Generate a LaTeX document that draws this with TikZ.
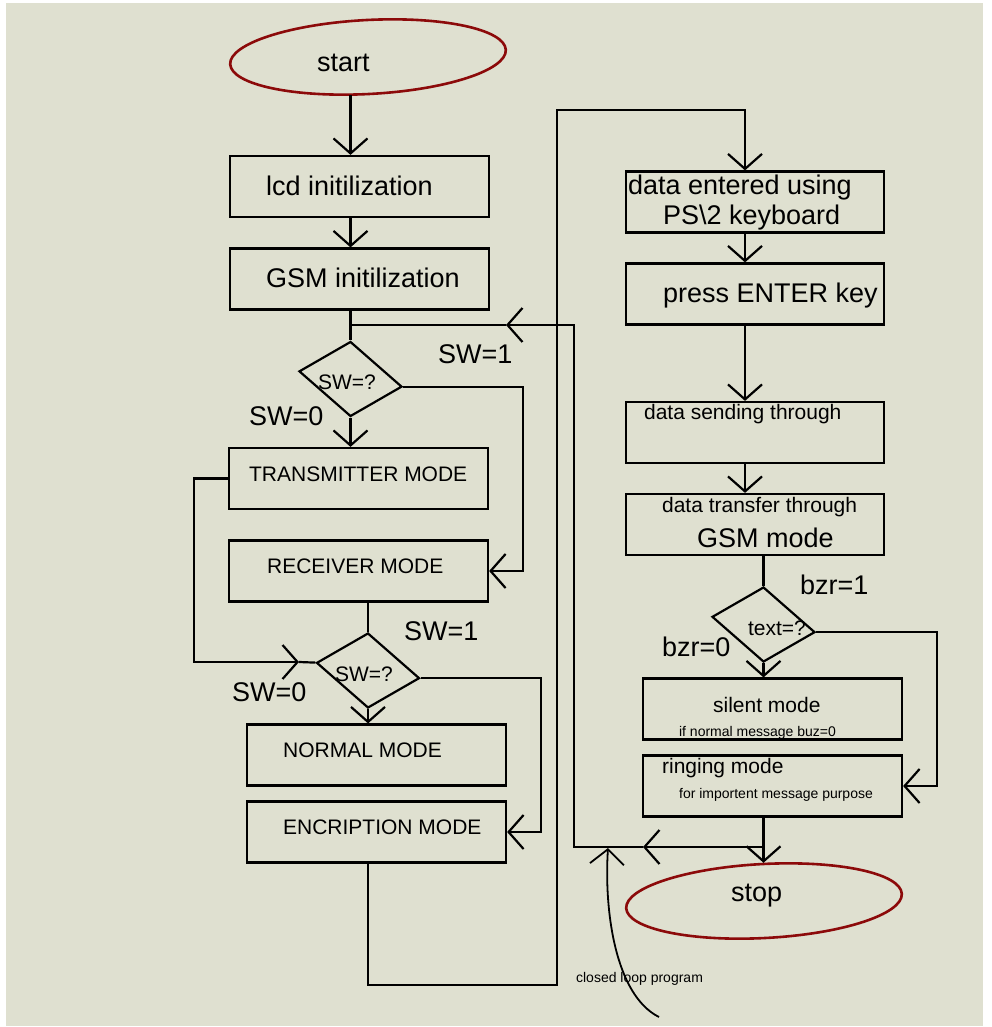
\documentclass[tikz,border=0pt]{standalone}
\usepackage{fontspec}
\setmainfont{Liberation Sans}
\usetikzlibrary{arrows.meta,shapes.geometric}
\definecolor{Fond}{RGB}{223,224,208}
\definecolor{BordRouge}{RGB}{140,10,10}

\begin{document}
\begin{tikzpicture}[x=1pt, y=-1pt, line width=2.2pt, every node/.style={inner sep=0pt}]

      \tikzset{
        Boite/.style={rectangle, draw=black, minimum width=259pt, minimum height=61pt},
        Test/.style={diamond, draw=black, minimum width=103pt, minimum height=75pt, yslant=-0.15},
        Bout/.style={ellipse, draw=BordRouge, line width=2.6pt, minimum width=276pt, minimum height=74pt, rotate=3},
        TxtL/.style={anchor=base west, font=\fontsize{27}{32}\selectfont},
        TxtM/.style={anchor=base west, font=\fontsize{21}{25}\selectfont},
        TxtS/.style={anchor=base west, font=\fontsize{14}{17}\selectfont},
        Fleche/.style={-{Straight Barb[length=15pt, width=34pt]}}
      }

      \useasboundingbox (0,0) rectangle (991,1027);
      \fill[white] (0,0) rectangle (991,1027);
      \fill[Fond] (6,3) rectangle (983,1026);

        % colonne gauche
        \node[Bout] (start) at (368,57) {};
        \node[TxtL] (startT) at (316,72) {start};
        \node[Boite] (lcd) at (359.5,186.5) {};
        \node[TxtL] (lcdT) at (265,195) {lcd initilization};
        \node[Boite] (gsm) at (359.5,279) {};
        \node[TxtL] (gsmT) at (265,287) {GSM initilization};

        \node[Test] (d1) at (350.5,379) {};
        \node[TxtM] (d1T) at (317,389) {SW=?};
        \node[TxtL] (d1Un) at (437,363) {SW=1};
        \node[TxtL] (d1Zero) at (248,425) {SW=0};

        \node[Boite] (tx) at (358.5,478.5) {};
        \node[TxtM] (txT) at (248,481) {TRANSMITTER MODE};
        \node[Boite] (rx) at (358.5,571) {};
        \node[TxtM] (rxT) at (266,573) {RECEIVER MODE};

        \node[Test] (d2) at (368,670.5) {};
        \node[TxtM] (d2T) at (334,681) {SW=?};
        \node[TxtL] (d2Un) at (403,640) {SW=1};
        \node[TxtL] (d2Zero) at (231,701) {SW=0};

        \node[Boite] (norm) at (376.5,755) {};
        \node[TxtM] (normT) at (282,757) {NORMAL MODE};
        \node[Boite] (encr) at (376.5,832) {};
        \node[TxtM] (encrT) at (282,834) {ENCRIPTION MODE};

        % colonne droite
        \node[Boite, minimum width=258pt] (entered) at (755,202) {};
        \node[TxtL] (enteredT) at (627,194) {data entered using};
        \node[TxtL] (enteredU) at (662,224) {PS\textbackslash 2 keyboard};
        \node[Boite, minimum width=258pt] (enter) at (755,294) {};
        \node[TxtL] (enterT) at (662,302) {press ENTER key};
        \node[Boite, minimum width=258pt] (sending) at (755,432.5) {};
        \node[TxtM] (sendingT) at (643,419) {data sending through};
        \node[Boite, minimum width=258pt] (transfer) at (755,524.5) {};
        \node[TxtM] (transferT) at (661,512) {data transfer through};
        \node[TxtL] (transferU) at (696,547) {GSM mode};

        \node[Test] (d3) at (763.5,624.5) {};
        \node[TxtM] (d3T) at (747,635) {text=?};
        \node[TxtL] (d3Un) at (799,594) {bzr=1};
        \node[TxtL] (d3Zero) at (661,656) {bzr=0};

        \node[Boite] (silent) at (772.5,709) {};
        \node[TxtM] (silentT) at (712,712) {silent mode};
        \node[TxtS] (silentU) at (678,736) {if normal message buz=0};
        \node[Boite] (ring) at (772.5,786) {};
        \node[TxtM] (ringT) at (661,773) {ringing mode};
        \node[TxtS] (ringU) at (678,798) {for importent message purpose};

        \node[Bout] (stop) at (764,901) {};
        \node[TxtL] (stopT) at (730,901) {stop};
        \node[TxtS] (note) at (575,982) {closed loop program};

        % points de passage
        \coordinate (colR) at (745,0);
        \coordinate (d2in) at (299,662);
        \coordinate (loopBas) at (557,985);
        \coordinate (loopHaut) at (557,110);
        \coordinate (retJ) at (763.5,847);
        \coordinate (retA) at (643,847);
        \coordinate (retB) at (574,847);
        \coordinate (retD) at (506,325);
        \coordinate (noteBas) at (659,1017);
        \coordinate (noteHaut) at (608,848);

        % liaisons
        \draw[Fleche] (start.south -| d1.north) -- (lcd.north -| d1.north);
        \draw[Fleche] (lcd.south -| d1.north) -- (gsm.north -| d1.north);
        \draw (gsm.south -| d1.north) -- (d1.north);
        \draw[Fleche] (d1.south) -- (tx.north -| d1.south);
        \draw[Fleche] (d1.east) -| ([xshift=34pt]rx.east) -- (rx.east);
        \draw[Fleche] (tx.west) -- ++(-34,0) |- (d2in);
        \draw (d2in) -- (d2.west);
        \draw (rx.south -| d2.north) -- (d2.north);
        \draw[Fleche] (d2.south) -- (norm.north -| d2.south);
        \draw[Fleche] (d2.east) -| ([xshift=34pt]encr.east) -- (encr.east);
        \draw[Fleche] (encr.south -| d2.south) |- (loopBas) -- (loopHaut) -| (entered.north -| colR);

        \draw[Fleche] (entered.south -| colR) -- (enter.north -| colR);
        \draw[Fleche] (enter.south -| colR) -- (sending.north -| colR);
        \draw[Fleche] (sending.south -| colR) -- (transfer.north -| colR);
        \draw (transfer.south -| d3.north) -- (d3.north);
        \draw[Fleche] (d3.south) -- (silent.north -| d3.south);
        \draw[Fleche] (d3.east) -| ([xshift=34pt]ring.east) -- (ring.east);
        \draw[Fleche] (ring.south -| d3.south) -- (stop.north -| d3.south);

        % retour
        \draw[Fleche] (retJ) -- (retA);
        \draw[Fleche] (retA) -- (retB) |- (retD);
        \draw (retD) -- (retD -| d1.north);
        \draw[Fleche, line width=1.8pt] (noteBas) .. controls (615,995) and (604,910) .. (noteHaut);

\end{tikzpicture}
\end{document}
